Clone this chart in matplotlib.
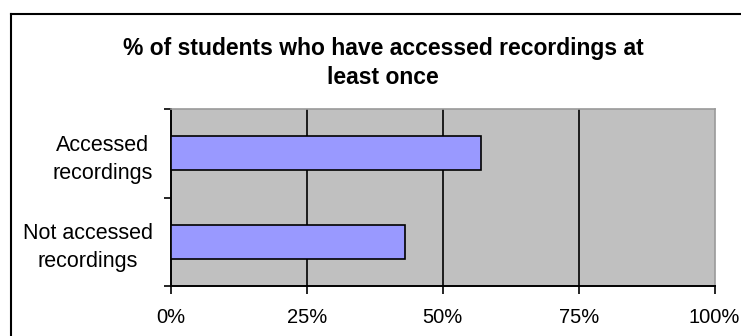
import numpy as np
import matplotlib.pyplot as plt
from matplotlib.lines import Line2D
from matplotlib.ticker import FixedLocator

categories = ["Not accessed\nrecordings", "Accessed\nrecordings"]
percent = [43, 57]
xticks = [0, 25, 50, 75, 100]
xtick_labels = ["0%", "25%", "50%", "75%", "100%"]
title = "% of students who have accessed recordings at\nleast once"

W, H = 741, 336
fig = plt.figure(figsize=(W / 100, H / 100), dpi=100)
fig.patch.set_facecolor("white")

# plot area in pixel terms
left, right, top, bottom = 171, 714.5, 109, 286
ax = fig.add_axes([left / W, 1 - bottom / H, (right - left) / W, (bottom - top) / H])
ax.set_facecolor("#C0C0C0")

y = np.arange(len(categories))
ax.barh(y, percent, height=0.38, color="#9999FF", edgecolor="black", linewidth=1.2, zorder=3)

ax.set_xlim(0, 100)
ax.set_ylim(-0.5, len(categories) - 0.5)

# vertical gridlines
for gx in [25, 50, 75]:
    ax.axvline(gx, color="black", linewidth=1.2, zorder=2)

ax.set_xticks(xticks)
ax.set_xticklabels(xtick_labels, fontsize=14.5, family="Liberation Sans")
ax.tick_params(axis="x", direction="out", length=6, width=1.2, pad=10, color="black")

ax.set_yticks(y)
ax.set_yticklabels(categories, fontsize=15.5, family="Liberation Sans",
                   multialignment="center", linespacing=1.45)
ax.tick_params(axis="y", which="major", length=0, pad=13)
ax.yaxis.set_minor_locator(FixedLocator([-0.5, 0.5, 1.5]))
ax.tick_params(axis="y", which="minor", direction="out", length=5, width=1.2, color="black")

for s in ["left", "bottom"]:
    ax.spines[s].set_color("black")
    ax.spines[s].set_linewidth(1.4)
for s in ["top", "right"]:
    ax.spines[s].set_color("#9A9A9A")
    ax.spines[s].set_linewidth(1.2)

fig.text(383 / W, 1 - 63 / H, title, ha="center", va="center", fontsize=16.5,
         fontweight="bold", family="Liberation Sans", linespacing=1.3)

# chart border (left and top edges)
fig.add_artist(Line2D([11 / W, 11 / W], [0, 1 - 14 / H], color="black", linewidth=1.5,
                      transform=fig.transFigure))
fig.add_artist(Line2D([11 / W, 1], [1 - 14 / H, 1 - 14 / H], color="black", linewidth=1.5,
                      transform=fig.transFigure))

fig.savefig("out.png", dpi=100)
